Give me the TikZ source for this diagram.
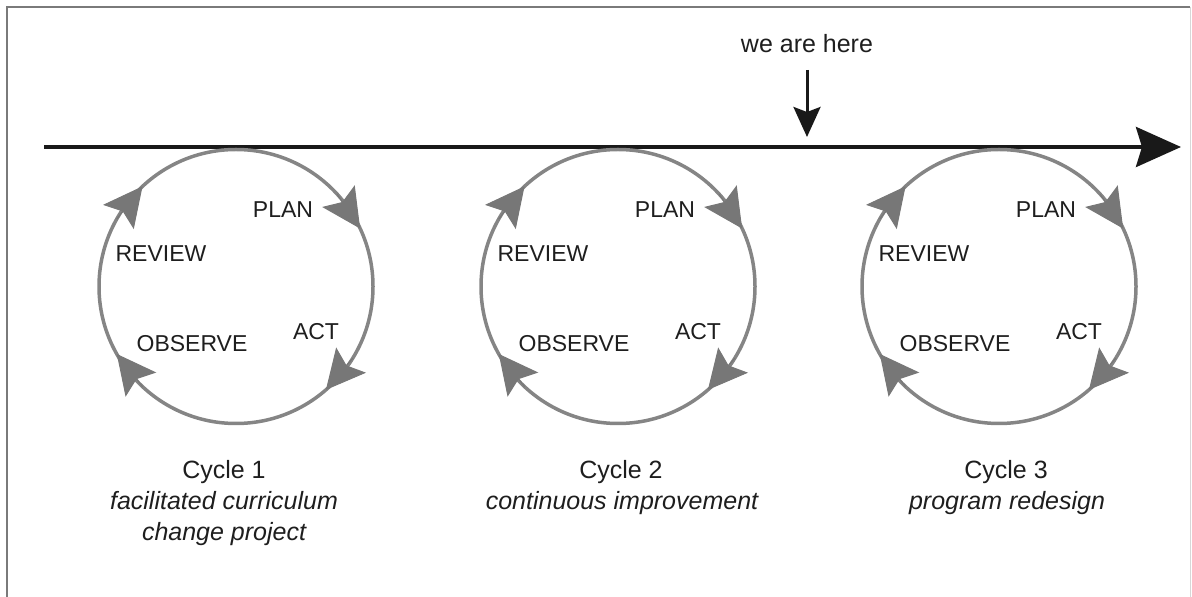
\documentclass[tikz,border=0pt]{standalone}
\usepackage{fontspec}
\setmainfont{Liberation Sans}
\usetikzlibrary{arrows.meta,calc}
\definecolor{cyc}{HTML}{858585}
\definecolor{cyctip}{HTML}{777777}
\definecolor{txt}{HTML}{1E1E1E}
\definecolor{frm}{HTML}{7A7A7A}
\begin{document}
\begin{tikzpicture}[x=1pt,y=1pt,
  lbl/.style={font=\fontsize{23}{27}\selectfont, text=txt, inner sep=0pt, anchor=base},
  captext/.style={font=\fontsize{25}{30}\selectfont, text=txt, inner sep=0pt, anchor=base},
  capit/.style={captext, font=\fontsize{25}{30}\selectfont\itshape},
  ring/.style={draw=cyc, line width=3.5pt},
  ringtip/.style={draw=cyctip, fill=cyctip, line width=1pt, -{Stealth[length=39pt,width=39pt,inset=7pt]}},
  timeline/.style={draw=black!90, line width=4pt, -{Stealth[length=45pt,width=40pt,inset=6pt]}},
  pointer/.style={draw=black!90, line width=3pt, -{Stealth[length=30pt,width=27pt,inset=5pt]}}]
\useasboundingbox (0,0) rectangle (1192,597);
% frame
\draw[frm, line width=2pt] (7,-2) -- (7,590) -- (1190,590);
\draw[frm!30, line width=1pt] (1190,590) -- (1190,-2);
% timeline
\coordinate (tstart) at (44,450);
\coordinate (tend) at (1181,450);
\draw[timeline] (tstart) -- (tend);
% we are here
\node[captext] (here) at (807,544) {we are here};
\coordinate (herefrom) at (807,527);
\coordinate (heretip) at (807,460);
\draw[pointer] (herefrom) -- (heretip);
% cycles
\foreach \i/\cx in {1/236, 2/618, 3/999} {
  \coordinate (c\i) at (\cx,310.5);
  \draw[ring] (c\i) circle[radius=137];
  \foreach \a in {25,-49,209.5,133} {
    \draw[ringtip] ($(c\i)+(\a+17.5:137)$) -- ($(c\i)+(\a:137)$);
  }
  \node[lbl] (plan\i) at ($(c\i)+(47,68.5)$) {PLAN};
  \node[lbl] (review\i) at ($(c\i)+(-75,24.5)$) {REVIEW};
  \node[lbl] (act\i) at ($(c\i)+(80,-53.5)$) {ACT};
  \node[lbl] (observe\i) at ($(c\i)+(-44,-65.5)$) {OBSERVE};
}
\node[captext] (cyc1) at (224,118) {Cycle 1};
\node[capit] (sub1a) at (224,87) {facilitated curriculum};
\node[capit] (sub1b) at (224,56) {change project};
\node[captext] (cyc2) at (621,118) {Cycle 2};
\node[capit] (sub2) at (622,87) {continuous improvement};
\node[captext] (cyc3) at (1006,118) {Cycle 3};
\node[capit] (sub3) at (1007,87) {program redesign};
\end{tikzpicture}
\end{document}
